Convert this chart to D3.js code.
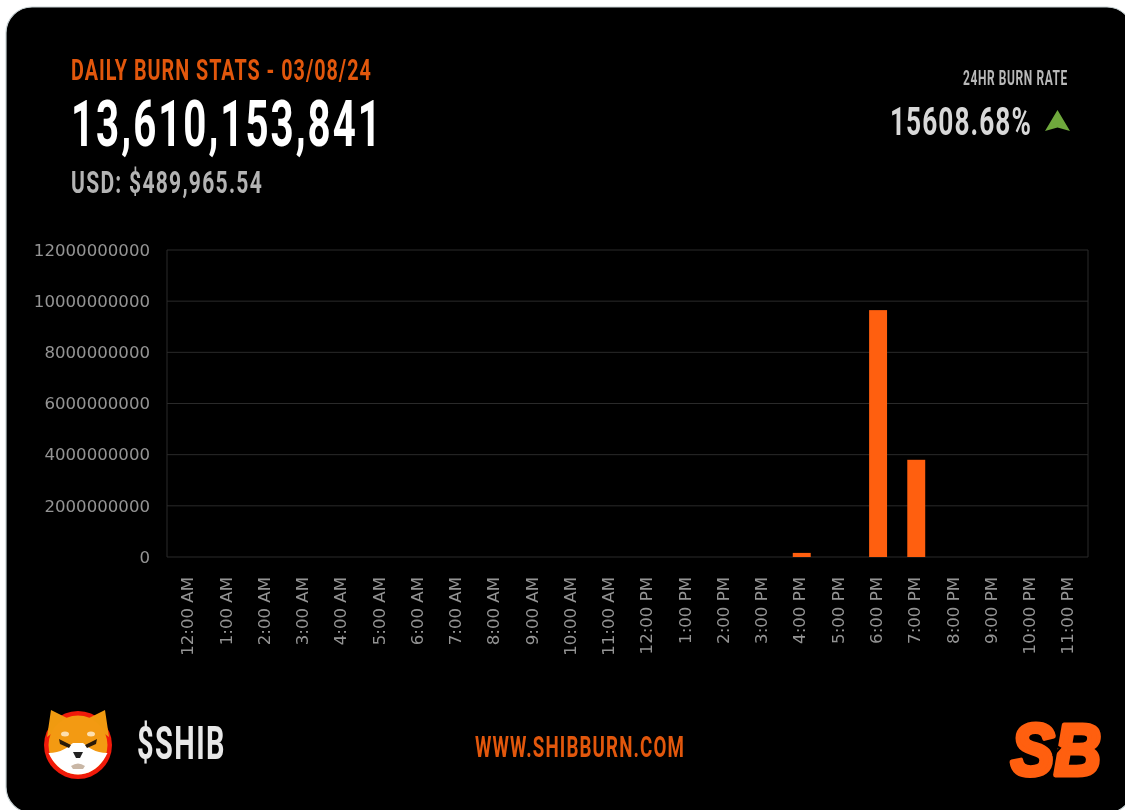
<!DOCTYPE html>
<html>
<head>
<meta charset="utf-8">
<script src="https://cdn.jsdelivr.net/npm/d3@7"></script>
<style>
  html, body { margin: 0; padding: 0; background: #fff; overflow: hidden; }
  svg { display: block; filter: blur(0.6px); }
  .head { font-family: "Roboto", sans-serif; font-weight: 700; }
  .axis text { font-family: "DejaVu Sans", sans-serif; font-size: 16.6px; fill: #949494; }
  .axis path, .axis line { stroke: none; }
</style>
</head>
<body>
<div id="chart"></div>
<script>
// Daily burn chart
const hours = ["12:00 AM", "1:00 AM", "2:00 AM", "3:00 AM", "4:00 AM", "5:00 AM", "6:00 AM", "7:00 AM",
  "8:00 AM", "9:00 AM", "10:00 AM", "11:00 AM", "12:00 PM", "1:00 PM", "2:00 PM", "3:00 PM",
  "4:00 PM", "5:00 PM", "6:00 PM", "7:00 PM", "8:00 PM", "9:00 PM", "10:00 PM", "11:00 PM"];
const burned = [0, 0, 0, 0, 0, 0, 0, 0, 0, 0, 0, 0, 0, 0, 0, 0,
  160000000, 0, 9650000000, 3800000000, 0, 0, 0, 0];
const yTicks = [0, 2000000000, 4000000000, 6000000000, 8000000000, 10000000000, 12000000000];

const titleText = "DAILY BURN STATS - 03/08/24";
const totalText = "13,610,153,841";
const usdText = "USD: $489,965.54";
const rateLabel = "24HR BURN RATE";
const rateText = "15608.68%";
const tickerText = "$SHIB";
const siteText = "WWW.SHIBBURN.COM";

const orange = "#ff5f0f";
const W = 1125, H = 810;
const margin = { top: 250, right: 37, bottom: 253, left: 167 };
const width = W - margin.left - margin.right;
const height = H - margin.top - margin.bottom;

const root = d3.select("#chart").append("svg")
  .attr("width", W)
  .attr("height", H);

// card, runs slightly past the right and bottom edge of the image
root.append("rect")
  .attr("x", 6).attr("y", 7)
  .attr("width", 1127).attr("height", 806)
  .attr("rx", 26)
  .attr("fill", "#000")
  .attr("stroke", "#c8d2d4")
  .attr("stroke-width", 1.2);

// header text, squeezed to the width it has in the picture
function label(txt, x, y, size, len, fill, spacing) {
  const t = root.append("text")
    .attr("class", "head")
    .attr("font-size", size)
    .attr("fill", fill)
    .style("letter-spacing", (spacing || 0) + "em")
    .text(txt);
  const natural = t.node().getComputedTextLength();
  t.attr("transform", `translate(${x},${y}) scale(${len / natural},1)`);
  return t;
}
label(titleText, 71, 80, 30, 301, "#e2570c", 0.05);
label(totalText, 71, 146, 64, 312, "#fff", 0.05);
label(usdText, 71, 193, 31, 192, "#b4b4b4", 0.06);
label(rateLabel, 963, 85, 20, 105, "#b8b8b8", 0.05);
label(rateText, 890, 135, 39, 142, "#d8d8d8", 0.04);
label(tickerText, 137, 759, 46, 89, "#e8e8e8", 0.05);
label(siteText, 475, 757, 30, 210, "#e2570c", 0.06);

// up arrow
root.append("path")
  .attr("d", "M1057.5 110 L1070 131 L1057.5 127.5 L1045 131 Z")
  .attr("fill", "#6fa83c");

// chart
const g = root.append("g")
  .attr("transform", `translate(${margin.left},${margin.top})`);

// bars sit a few px right of their labels in the original
const x = d3.scaleBand()
  .domain(hours)
  .range([5, width])
  .paddingInner(0.53)
  .paddingOuter(0.265);

const xLabels = d3.scalePoint()
  .domain(hours)
  .range([20, 900]);

const y = d3.scaleLinear()
  .domain([0, 12000000000])
  .range([height, 0]);

// grid
g.append("g")
  .selectAll("line")
  .data(yTicks)
  .enter()
  .append("line")
  .attr("x1", 0)
  .attr("x2", width)
  .attr("y1", d => y(d))
  .attr("y2", d => y(d))
  .attr("stroke", "#2a2a2a");
g.append("line")
  .attr("x1", 0).attr("x2", 0)
  .attr("y1", 0).attr("y2", height)
  .attr("stroke", "#2a2a2a");
g.append("line")
  .attr("x1", width).attr("x2", width)
  .attr("y1", 0).attr("y2", height)
  .attr("stroke", "#2a2a2a");

// bars
g.selectAll(".bar")
  .data(hours.map((h, i) => ({ hour: h, value: burned[i] })).filter(d => d.value > 0))
  .enter()
  .append("rect")
  .attr("class", "bar")
  .attr("x", d => x(d.hour))
  .attr("y", d => y(d.value))
  .attr("width", x.bandwidth())
  .attr("height", d => height - y(d.value))
  .attr("fill", orange);

// axes
g.append("g")
  .attr("class", "axis")
  .call(d3.axisLeft(y).tickValues(yTicks).tickFormat(d3.format("d")).tickSize(0).tickPadding(17));

g.append("g")
  .attr("class", "axis")
  .attr("transform", `translate(0,${height})`)
  .call(d3.axisBottom(xLabels).tickSize(0))
  .selectAll("text")
  .attr("transform", "rotate(-90)")
  .attr("x", -20)
  .attr("y", 0)
  .attr("dy", "0.35em")
  .attr("text-anchor", "end");

// $SHIB logo
const logo = root.append("g").attr("transform", "translate(78,745)");
logo.append("circle").attr("r", 34).attr("fill", "#f01a0a");
logo.append("path").attr("d", "M-31 -8 L-27 -35 L-7 -25 Z M31 -8 L27 -35 L7 -25 Z").attr("fill", "#f09a10");
logo.append("circle").attr("r", 29.5).attr("fill", "#f39a12");
logo.append("path")
  .attr("d", "M-29.5 8 C-17 8 -10 2 -5 -2 L5 -2 C10 2 17 8 29.5 8 C23 22 12 29.5 0 29.5 C-12 29.5 -23 22 -29.5 8 Z")
  .attr("fill", "#fff");
logo.append("path").attr("d", "M-19 -6 L-7 0 L-9 3 L-18 -1 Z M19 -6 L7 0 L9 3 L18 -1 Z").attr("fill", "#2a1a08");
logo.append("ellipse").attr("cx", -13).attr("cy", -11).attr("rx", 4).attr("ry", 2.5).attr("fill", "#fde0b0");
logo.append("ellipse").attr("cx", 13).attr("cy", -11).attr("rx", 4).attr("ry", 2.5).attr("fill", "#fde0b0");
logo.append("path").attr("d", "M-5 7 L5 7 L2 13 L-2 13 Z").attr("fill", "#222");
logo.append("path").attr("d", "M-7 21 Q0 16 7 21 L5 24 L-5 24 Z").attr("fill", "#c9b7a6");

// SB logo
root.append("text")
  .attr("font-family", "'Liberation Sans', sans-serif")
  .attr("font-weight", 700)
  .attr("font-style", "italic")
  .attr("font-size", 72)
  .attr("fill", orange)
  .attr("stroke", orange)
  .attr("stroke-width", 5)
  .attr("stroke-linejoin", "round")
  .attr("transform", "translate(1011,775) scale(0.9,1)")
  .text("SB");
root.append("path")
  .attr("d", "M1060 725 L1055 745 L1060 748 L1053 756")
  .attr("fill", "none")
  .attr("stroke", "#000")
  .attr("stroke-width", 2);
</script>
</body>
</html>
